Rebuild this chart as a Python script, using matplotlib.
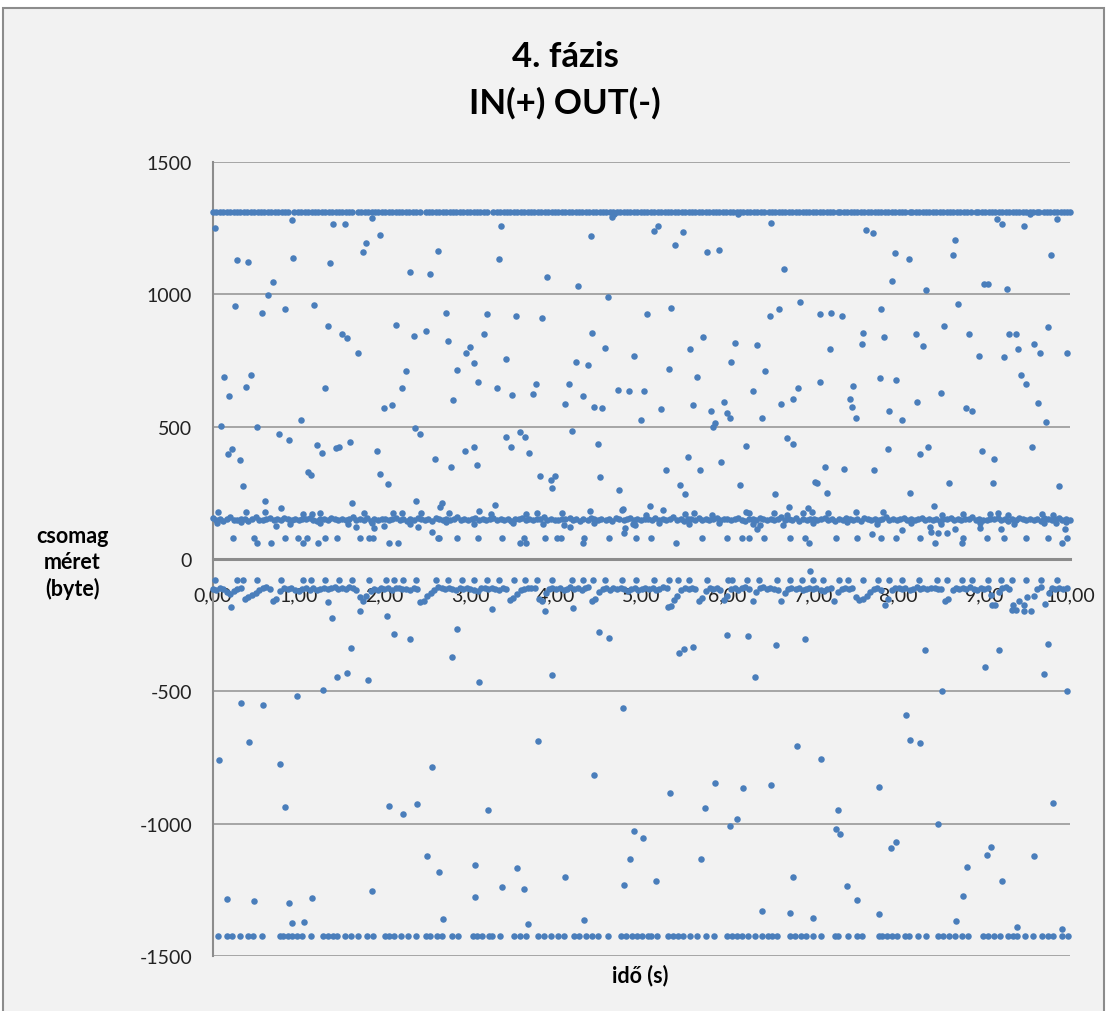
import matplotlib
matplotlib.use("Agg")
import matplotlib.pyplot as plt
from matplotlib.patches import Rectangle

# --- data (x in seconds, y in bytes; *_CS lists are hundredths of a second) ---
TOP_Y = 1312
TOP_X_CS = [0, 4, 8, 12, 16, 20, 24, 28, 32, 36, 40, 44, 48, 52, 56, 60, 64, 68, 72, 76, 80, 84, 87,
            94,
            99, 103, 107, 111, 115, 119, 123, 127, 131, 135, 139, 143, 147, 151, 155, 159, 162,
            169, 173, 177, 181, 185, 189, 193, 197, 201, 205, 209, 213, 217, 221, 225, 229, 233, 237, 241,
            248, 252, 256, 260, 264, 268, 272, 276, 280, 284, 288, 292, 296, 300, 304, 308, 312, 316, 320,
            327, 331, 335, 339, 343, 347, 351, 355, 359, 363, 367, 371, 375, 379, 383, 387, 391, 395, 399,
            403, 407, 411, 415, 419, 423, 427, 431, 435, 439, 443, 447, 451, 455, 459, 463, 467, 471, 475,
            479, 483, 487, 491, 495, 499, 503, 507, 511, 515, 519, 523, 527, 531, 535, 539, 543, 547, 551,
            555, 559, 563, 567, 571, 575, 579, 583, 587, 591, 595, 599, 603, 607, 611, 615, 619, 623, 627,
            631, 635, 639, 643,
            649, 652, 656, 660, 664, 668, 672, 676, 680, 684, 688, 692, 696, 700, 704, 708, 712, 716, 720, 723,
            729, 732, 736, 740, 744, 748, 752, 756, 760, 764, 768, 772, 776, 780, 784, 788, 792, 796, 800, 804, 807,
            813, 816, 820, 824, 828, 832, 836, 840, 844, 848, 852, 856, 860, 864, 868, 872, 876, 880, 884,
            890, 893, 897, 901, 905, 909, 913, 917, 921, 925, 929, 933, 937, 941, 945, 949, 953, 957, 961, 964,
            970, 973, 977, 981, 985, 989, 993, 997, 1000]

IN_BAND = [(0, 156), (4, 148), (8, 152), (12, 145), (16, 150), (20, 157), (24, 149), (28, 146), (33, 153), (37, 150),
           (41, 144), (46, 151), (50, 158), (54, 149), (58, 147), (62, 153), (67, 155), (71, 148), (75, 150), (79, 146),
           (83, 154), (87, 151), (92, 148), (96, 152), (100, 147), (104, 153), (108, 150), (113, 156), (117, 149),
           (121, 145), (125, 152), (130, 150), (134, 147), (138, 155), (142, 151), (146, 148), (151, 153), (155, 146),
           (159, 150), (163, 157), (167, 149), (172, 152), (176, 148), (180, 154), (184, 145), (188, 151), (193, 149),
           (197, 153), (201, 150), (205, 146), (209, 152), (214, 155), (218, 148), (222, 151), (226, 144), (230, 153),
           (235, 149), (239, 156), (243, 150), (247, 147), (251, 152), (256, 145), (260, 154), (264, 150), (268, 148),
           (272, 153), (277, 146), (281, 151), (285, 157), (289, 149), (293, 152), (298, 147), (302, 151), (306, 155),
           (310, 148), (315, 152), (319, 146), (323, 150), (327, 156), (331, 149), (336, 153), (340, 147), (344, 151),
           (348, 145), (352, 152), (357, 150), (361, 155), (365, 148), (369, 151), (373, 146), (378, 153), (382, 150),
           (386, 157), (390, 148), (394, 152), (399, 149), (403, 146), (407, 153), (411, 150), (416, 155), (420, 148),
           (424, 151), (428, 145), (432, 152), (437, 149), (441, 156), (445, 150), (449, 147), (453, 153), (458, 148),
           (462, 151), (466, 145), (470, 154), (474, 150), (479, 147), (483, 152), (487, 156), (491, 149), (495, 151),
           (499, 146), (504, 150), (508, 153), (512, 147), (516, 155), (521, 149), (525, 152), (529, 146), (533, 150),
           (537, 157), (542, 148), (546, 151), (550, 145), (554, 153), (558, 150), (563, 148), (567, 155), (571, 149),
           (575, 152), (579, 146), (584, 151), (588, 154), (592, 148), (596, 150), (600, 153), (605, 147), (609, 151),
           (613, 156), (617, 149), (621, 145), (626, 152), (630, 150), (634, 147), (638, 155), (642, 151), (647, 148),
           (651, 153), (655, 146), (659, 150), (663, 157), (668, 149), (672, 152), (676, 148), (680, 154), (684, 145),
           (689, 151), (693, 149), (697, 153), (701, 150), (705, 146), (710, 152), (714, 155), (718, 148), (722, 151),
           (726, 144), (731, 153), (735, 149), (739, 156), (743, 150), (747, 147), (752, 152), (756, 145), (760, 154),
           (764, 150), (768, 148), (773, 153), (777, 146), (781, 151), (785, 157), (789, 149), (794, 152), (798, 147),
           (802, 151), (806, 155), (810, 148), (815, 152), (819, 146), (823, 150), (827, 156), (831, 149), (836, 153),
           (840, 147), (844, 151), (848, 145), (852, 152), (857, 150), (861, 155), (865, 148), (869, 151), (873, 146),
           (878, 153), (882, 150), (886, 157), (890, 148), (894, 152), (899, 149), (903, 146), (907, 153), (911, 150),
           (916, 155), (920, 148), (924, 151), (928, 145), (932, 152), (937, 149), (941, 156), (945, 150), (949, 147),
           (953, 153), (958, 148), (962, 151), (966, 145), (970, 154), (974, 150), (979, 147), (983, 152), (987, 156),
           (991, 149), (995, 151), (1000, 148)]

IN_POINTS = [(0.024, 1249), (0.926, 1280), (1.397, 1266), (1.537, 1264), (1.856, 1289), (1.953, 1226), (0.284, 1129),
             (0.405, 1123), (0.938, 1138), (1.369, 1120), (1.751, 1161), (1.79, 1195), (2.622, 1162), (2.299, 1085),
             (2.529, 1076), (0.697, 1047), (0.646, 997), (0.253, 955), (0.568, 930), (0.844, 943), (1.183, 959),
             (1.346, 881), (1.506, 850), (1.56, 836), (1.688, 777), (2.136, 886), (2.342, 842), (2.486, 863),
             (2.715, 929), (2.742, 822), (3.201, 925), (3.159, 852), (3.536, 920), (3.839, 911), (3.334, 1134),
             (3.365, 1260), (3.898, 1066), (4.255, 1031), (4.407, 1222), (4.609, 989), (4.652, 1293), (4.675, 1302),
             (4.419, 853), (4.578, 799), (4.909, 768), (2.952, 778), (2.999, 802), (3.046, 740), (2.844, 715),
             (3.096, 667), (3.415, 754), (3.318, 646), (3.493, 618), (3.738, 623), (3.765, 661), (4.154, 661),
             (4.232, 743), (4.38, 733), (4.104, 584), (4.322, 615), (4.45, 575), (4.543, 571), (4.73, 638),
             (4.855, 636), (4.99, 524), (4.193, 483), (4.489, 435), (4.516, 308), (4.742, 262), (4.78, 189),
             (0.125, 688), (0.187, 614), (0.448, 697), (0.381, 648), (0.094, 503), (0.518, 497), (1.023, 524),
             (1.303, 647), (0.171, 396), (0.218, 415), (0.315, 374), (0.35, 277), (0.77, 473), (0.887, 448),
             (1.21, 430), (1.268, 400), (1.439, 418), (1.47, 425), (1.599, 443), (1.113, 327), (1.144, 318),
             (0.611, 218), (0.794, 191), (1.622, 210), (1.918, 409), (1.945, 322), (2.042, 283), (2.0, 570),
             (2.093, 583), (2.21, 646), (2.256, 711), (2.361, 496), (2.42, 474), (2.591, 379), (2.781, 349),
             (2.797, 599), (2.941, 409), (3.042, 425), (3.077, 354), (3.419, 462), (3.481, 423), (3.582, 480),
             (3.641, 462), (3.692, 400), (3.82, 315), (3.94, 297), (3.987, 315), (3.956, 269), (2.373, 221),
             (2.676, 213), (3.287, 205),
             (5.15, 1240), (5.19, 1260), (5.484, 1235), (5.387, 1187), (5.764, 1161), (5.9, 1169), (6.507, 1269),
             (6.13, 1302), (6.663, 1096), (7.615, 1242), (7.701, 1231), (7.954, 1158), (8.117, 1134), (7.919, 1051),
             (8.32, 1016), (8.631, 1150), (8.662, 1207), (9.0, 1040), (9.039, 1038), (9.269, 1021), (9.152, 1283),
             (9.206, 1264), (9.459, 1260), (9.53, 1305), (9.848, 1286), (9.774, 1150), (5.068, 924), (5.348, 950),
             (5.566, 793), (5.721, 840), (6.087, 818), (6.048, 745), (6.344, 807), (6.503, 919), (6.6, 943),
             (6.849, 972), (7.087, 924), (7.215, 930), (7.339, 919), (7.203, 793), (7.588, 853), (7.569, 811),
             (7.794, 943), (7.826, 837), (8.199, 850), (8.281, 804), (8.693, 965), (8.533, 881), (8.825, 850),
             (8.934, 767), (9.23, 763), (9.288, 852), (9.37, 850), (9.397, 792), (9.58, 814), (9.646, 780),
             (9.743, 876), (9.968, 777), (5.025, 636), (5.321, 719), (5.644, 688), (5.227, 566), (5.605, 580),
             (5.807, 558), (5.966, 593), (5.997, 553), (6.028, 531), (5.857, 512), (5.834, 500), (6.301, 636),
             (6.441, 711), (6.41, 531), (6.624, 586), (6.768, 605), (6.83, 646), (7.083, 667), (7.433, 605),
             (7.456, 573), (7.472, 653), (7.507, 531), (7.779, 683), (7.973, 675), (7.892, 558), (8.04, 527),
             (8.211, 593), (8.491, 627), (8.786, 570), (8.856, 561), (9.432, 697), (9.486, 662), (9.623, 588),
             (9.716, 516), (6.694, 456), (6.764, 433), (6.223, 427), (5.546, 386), (5.282, 335), (5.679, 335),
             (5.924, 366), (5.445, 278), (5.511, 245), (6.149, 281), (6.561, 244), (7.024, 292), (7.048, 286),
             (7.137, 346), (7.16, 248), (7.363, 340), (7.717, 335), (7.876, 414), (8.137, 248), (8.246, 396),
             (8.339, 423), (8.584, 287), (8.973, 409), (9.109, 376), (9.097, 289), (9.556, 423), (9.875, 277),
             (5.095, 199), (6.717, 196), (8.409, 199)]

# points just above / below the ~150 byte band
IN_NEAR = [(0.055, 176), (0.382, 176), (0.607, 179), (1.047, 169), (1.152, 169), (1.249, 175), (1.762, 175),
           (2.105, 175), (2.202, 172), (2.427, 172), (2.649, 197), (2.758, 172), (3.104, 181), (3.24, 169),
           (3.653, 169), (3.777, 175), (4.077, 175), (4.4, 181), (4.769, 185), (5.056, 166), (5.255, 184),
           (5.507, 169), (5.616, 175), (5.826, 166), (6.223, 179), (6.254, 172), (6.542, 175), (6.694, 166),
           (6.884, 175), (6.946, 194), (6.989, 179), (7.176, 175), (7.499, 179), (7.818, 179), (8.51, 166),
           (8.747, 169), (9.066, 171), (9.164, 175), (9.272, 166), (9.677, 169), (9.801, 166),
           (0.732, 126), (1.669, 122), (1.879, 116), (1.995, 124), (2.388, 122), (2.552, 103), (4.166, 122),
           (4.804, 116), (4.796, 97), (4.928, 127), (6.344, 112), (6.383, 128), (8.036, 108), (8.366, 122),
           (8.378, 103), (8.456, 100), (8.561, 100), (8.658, 112), (8.954, 117), (9.195, 112), (9.945, 112),
           (9.837, 137), (7.689, 94),
           (0.05, 135), (0.33, 138), (0.9, 133), (1.25, 137), (1.58, 132), (1.85, 136), (2.3, 134), (2.72, 138),
           (3.05, 131), (3.5, 136), (3.85, 133), (4.1, 130), (4.45, 137), (4.9, 134), (5.2, 136), (5.55, 131),
           (5.9, 137), (6.3, 134), (6.65, 130), (7.0, 135), (7.4, 138), (7.75, 132), (8.15, 136), (8.5, 133),
           (8.95, 137), (9.35, 131), (9.7, 135), (9.95, 138)]

IN_ROW80_Y = 81
IN_ROW80_X = [0.234, 0.483, 0.844, 0.988, 1.093, 1.307, 1.443, 1.719, 1.824, 1.871, 2.626, 2.641, 2.851, 3.096,
              3.373, 3.633, 3.87, 4.018, 4.065, 4.333, 4.621, 4.936, 5.107, 5.702, 5.994, 6.176, 6.25, 6.425,
              6.733, 6.904, 7.269, 7.514, 7.794, 7.973, 8.253, 8.755, 9.031, 9.23, 9.483, 9.747, 9.961]
IN_ROW60_Y = 61
IN_ROW60_X = [0.51, 0.673, 1.047, 1.226, 2.058, 2.163, 3.579, 3.656, 4.314, 5.406, 6.958, 8.428, 8.736, 9.903]

OUT_ROW80_Y = -81
OUT_ROW80_X = [0.024, 0.277, 0.354, 0.51, 0.794, 1.047, 1.144, 1.307, 1.467, 1.622, 1.825, 2.015, 2.116, 2.213,
               2.369, 2.602, 2.739, 2.902, 3.042, 3.201, 3.334, 3.509, 3.641, 3.781, 3.952, 4.185, 4.314, 4.43,
               4.578, 4.769, 4.936, 5.15, 5.321, 5.43, 5.558, 5.76, 6.005, 6.052, 6.227, 6.371, 6.577, 6.733,
               6.869, 7.005, 7.114, 7.304, 7.413, 7.588, 7.763, 7.892, 8.04, 8.242, 8.448, 8.561, 8.736, 8.853,
               9.047, 9.195, 9.327, 9.486, 9.661, 9.848]

OUT_BAND = [(0, -112), (4, -118), (8, -108), (12, -115), (16, -125), (20, -132), (24, -120), (28, -113), (33, -110),
            (37, -150), (41, -142), (45, -135), (50, -128), (54, -118), (58, -110), (62, -106), (66, -115),
            (70, -158), (74, -150), (78, -122), (83, -110), (87, -114), (91, -108), (96, -118), (100, -121),
            (104, -112), (108, -109), (113, -116), (117, -111), (121, -119), (125, -113), (129, -108), (134, -115),
            (138, -110), (142, -106), (146, -114), (151, -109), (155, -112), (159, -107), (163, -110), (167, -118),
            (171, -145), (175, -158), (179, -138), (184, -122), (188, -112), (192, -116), (196, -109), (200, -114),
            (204, -110), (209, -117), (213, -111), (217, -108), (221, -115), (225, -112), (230, -118), (234, -110),
            (238, -114), (242, -162), (246, -160), (250, -140), (254, -128), (258, -118), (263, -107), (267, -111),
            (271, -115), (275, -109), (279, -113), (284, -117), (288, -110), (292, -114), (296, -108), (300, -112),
            (304, -118), (309, -120), (313, -111), (317, -108), (321, -115), (325, -110), (329, -113), (334, -117),
            (338, -108), (342, -112), (346, -155), (350, -148), (355, -132), (359, -118), (363, -112), (367, -108),
            (371, -111), (376, -109), (380, -150), (384, -160), (388, -130), (392, -115), (396, -110), (400, -113),
            (405, -108), (409, -116), (413, -112), (417, -106), (421, -114), (426, -110), (430, -118), (434, -111),
            (438, -107), (442, -158), (446, -150), (450, -123), (455, -114), (459, -110), (463, -116), (467, -108),
            (471, -112), (476, -109), (480, -115), (484, -120), (488, -113), (492, -110), (496, -117), (500, -112),
            (504, -108), (509, -115), (513, -110), (517, -118), (521, -113), (525, -107), (530, -111), (534, -178),
            (538, -155), (542, -140), (546, -118), (551, -110), (555, -114), (559, -108), (563, -112), (567, -160),
            (571, -148), (575, -120), (580, -110), (584, -115), (588, -109), (592, -118), (596, -155), (600, -140),
            (604, -112), (609, -108), (613, -116), (617, -110), (621, -106), (625, -114), (630, -158), (634, -125),
            (638, -110), (642, -107), (646, -112), (650, -109), (655, -113), (659, -118), (663, -158), (667, -130),
            (671, -112), (675, -108), (680, -115), (684, -110), (688, -117), (692, -112), (696, -108), (700, -114),
            (704, -110), (709, -117), (713, -122), (717, -112), (721, -108), (725, -160), (729, -125), (734, -112),
            (738, -108), (742, -115), (746, -110), (750, -145), (754, -155), (759, -150), (763, -140), (767, -125),
            (771, -114), (775, -110), (779, -117), (784, -175), (788, -150), (792, -118), (796, -111), (800, -108),
            (804, -114), (808, -110), (813, -116), (817, -112), (821, -107), (825, -113), (829, -109), (833, -115),
            (838, -111), (842, -108), (846, -114), (850, -112), (854, -160), (858, -150), (863, -118), (867, -110),
            (871, -115), (875, -109), (879, -113), (883, -107), (888, -112), (892, -116), (896, -110), (900, -114),
            (904, -108), (908, -135), (913, -172), (917, -125), (921, -110), (925, -106), (929, -113), (933, -175),
            (937, -193), (941, -160), (946, -175), (950, -145), (954, -195), (958, -140), (962, -112), (966, -105),
            (971, -170), (975, -130), (979, -110), (983, -112), (987, -108), (992, -115), (996, -110)]

OUT_POINTS = [(1.346, -162), (1.393, -222), (1.72, -197), (2.027, -215), (3.87, -197), (4.205, -185), (3.26, -190),
              (0.21, -181), (5.313, -181), (9.085, -172), (9.32, -193), (9.467, -197), (6.966, -45),
              (0.07, -760), (0.323, -545), (0.58, -551), (0.42, -693), (0.782, -774), (0.844, -937), (0.984, -516),
              (1.28, -494), (1.451, -444), (1.56, -430), (1.607, -337), (1.813, -456), (2.112, -285), (2.299, -302),
              (2.058, -935), (2.217, -965), (2.377, -926), (2.552, -786), (2.793, -372), (2.851, -265),
              (3.104, -464), (3.213, -949), (3.789, -686), (3.952, -437), (4.446, -818), (4.504, -275),
              (4.621, -298), (4.78, -563), (4.913, -1028), (5.014, -1053), (4.862, -1134), (4.796, -1233),
              (0.16, -1285), (0.483, -1292), (0.887, -1299), (0.918, -1377), (1.058, -1373), (1.155, -1281),
              (1.86, -1255), (2.501, -1121), (2.633, -1182), (2.68, -1359), (3.061, -1155), (3.054, -1277),
              (3.373, -1238), (3.548, -1169), (3.629, -1248), (3.68, -1380), (4.111, -1203), (4.333, -1364),
              (5.165, -1216), (5.332, -883), (5.441, -354), (5.5, -340), (5.605, -333), (5.694, -1135),
              (5.745, -940), (5.858, -848), (5.998, -289), (6.029, -1009), (6.11, -984), (6.18, -864),
              (6.246, -291), (6.32, -446), (6.402, -1331), (6.515, -854), (6.573, -324), (6.733, -1338),
              (6.764, -1203), (6.818, -707), (6.904, -303), (7.001, -1357), (7.094, -756), (7.297, -949),
              (7.265, -1022), (7.312, -1039), (7.398, -1234), (7.515, -1289), (7.767, -860), (7.775, -1343),
              (7.915, -1091), (7.973, -1071), (8.09, -590), (8.137, -685), (8.253, -694), (8.312, -345),
              (8.464, -1000), (8.51, -497), (8.666, -1369), (8.747, -1272), (8.802, -1165), (9.004, -407),
              (9.031, -1117), (9.074, -1087), (9.167, -345), (9.21, -1216), (9.385, -1391), (9.584, -1122),
              (9.7, -434), (9.743, -320), (9.798, -921), (9.906, -1399), (9.961, -499)]

OUT_ROW1430_Y = -1425
OUT_ROW1430_X = [0.055, 0.16, 0.226, 0.319, 0.413, 0.471, 0.568, 0.782, 0.821, 0.872, 0.918, 0.977, 1.035, 1.144,
                 1.288, 1.346, 1.397, 1.443, 1.54, 1.607, 1.696, 1.801, 1.871, 2.007, 2.058, 2.116, 2.194, 2.272,
                 2.365, 2.482, 2.532, 2.618, 2.676, 2.785, 2.855, 3.038, 3.077, 3.135, 3.221, 3.26, 3.349, 3.516,
                 3.583, 3.649, 3.796, 3.866, 3.944, 4.03, 4.1, 4.209, 4.275, 4.349, 4.419, 4.497, 4.609, 4.757,
                 4.816, 4.886, 4.944, 5.01, 5.08, 5.111, 5.177, 5.313, 5.371, 5.43, 5.488, 5.566, 5.644, 5.752,
                 5.846, 5.994, 6.052, 6.11, 6.169, 6.246, 6.324, 6.402, 6.472, 6.519, 6.577, 6.733, 6.791, 6.857,
                 6.923, 7.005, 7.094, 7.258, 7.297, 7.405, 7.51, 7.569, 7.771, 7.81, 7.86, 7.919, 7.977, 8.075,
                 8.121, 8.222, 8.324, 8.456, 8.522, 8.588, 8.658, 8.744, 8.813, 8.988, 9.047, 9.117, 9.183, 9.272,
                 9.331, 9.378, 9.475, 9.572, 9.677, 9.747, 9.805, 9.903, 9.973]

XTICKS = [0, 1, 2, 3, 4, 5, 6, 7, 8, 9, 10]
XTICK_LABELS = ["0,00", "1,00", "2,00", "3,00", "4,00", "5,00", "6,00", "7,00", "8,00", "9,00", "10,00"]
YTICKS = [-1500, -1000, -500, 0, 500, 1000, 1500]
YTICK_LABELS = ["-1500", "-1000", "-500", "0", "500", "1000", "1500"]

TITLE_1 = "4. fázis"
TITLE_2 = "IN(+) OUT(-)"
XLABEL = "idő (s)"
YLABEL = "csomag\nméret\n(byte)"

# --- drawing ---
plt.rcParams['font.family'] = ['Lato', 'DejaVu Sans']
W, H = 1109, 1012
BLUE = '#4A7EBB'
BG = '#F2F2F2'

fig = plt.figure(figsize=(W / 100, H / 100), dpi=100, facecolor='white')
fig.patches.append(Rectangle((3 / W, -0.01), 1101 / W, 1 - 9 / H + 0.01, transform=fig.transFigure,
                             facecolor=BG, edgecolor='#8C8C8C', lw=1.5, zorder=-5))
ax = fig.add_axes([213 / W, 1 - 957 / H, (1070 - 213) / W, (957 - 163) / H])
ax.set_facecolor(BG)

groups = [
    ([v / 100 for v in TOP_X_CS], [TOP_Y] * len(TOP_X_CS)),
    ([x / 100 for x, _ in IN_BAND], [y for _, y in IN_BAND]),
    ([x for x, _ in IN_POINTS], [y for _, y in IN_POINTS]),
    ([x for x, _ in IN_NEAR], [y for _, y in IN_NEAR]),
    (IN_ROW80_X, [IN_ROW80_Y] * len(IN_ROW80_X)),
    (IN_ROW60_X, [IN_ROW60_Y] * len(IN_ROW60_X)),
    (OUT_ROW80_X, [OUT_ROW80_Y] * len(OUT_ROW80_X)),
    ([x / 100 for x, _ in OUT_BAND], [y for _, y in OUT_BAND]),
    ([x for x, _ in OUT_POINTS], [y for _, y in OUT_POINTS]),
    (OUT_ROW1430_X, [OUT_ROW1430_Y] * len(OUT_ROW1430_X)),
]
for xs, ys in groups:
    ax.scatter(xs, ys, s=22, color=BLUE, linewidths=0, zorder=3, clip_on=False)

ax.set_xlim(0, 10)
ax.set_ylim(-1500, 1500)
ax.set_xticks(XTICKS)
ax.set_xticklabels(XTICK_LABELS)
ax.set_yticks(YTICKS)
ax.set_yticklabels(YTICK_LABELS)
ax.grid(axis='y', color='#A0A0A0', lw=1.3)
ax.set_axisbelow(True)

for side in ('top', 'right'):
    ax.spines[side].set_visible(False)
ax.spines['bottom'].set_position(('data', 0))
ax.spines['bottom'].set_color('#8C8C8C')
ax.spines['bottom'].set_linewidth(2.2)
ax.spines['bottom'].set_zorder(2)
ax.spines['left'].set_color('#8C8C8C')
ax.spines['left'].set_linewidth(1.5)
ax.tick_params(axis='both', length=0, labelsize=14, labelcolor='#222222')
ax.tick_params(axis='x', pad=20)
ax.tick_params(axis='y', pad=15)

fig.text(565 / W, 1 - 57 / H, TITLE_1, ha='center', va='center', fontsize=25, fontweight='bold')
fig.text(565 / W, 1 - 103 / H, TITLE_2, ha='center', va='center', fontsize=25, fontweight='bold')
fig.text(72 / W, 1 - 563 / H, YLABEL, ha='center', va='center', fontsize=15.5, fontweight='bold',
         linespacing=1.3)
fig.text(640 / W, 1 - 976 / H, XLABEL, ha='center', va='center', fontsize=15.5, fontweight='bold')

fig.savefig("out.png", dpi=100, facecolor='white')
